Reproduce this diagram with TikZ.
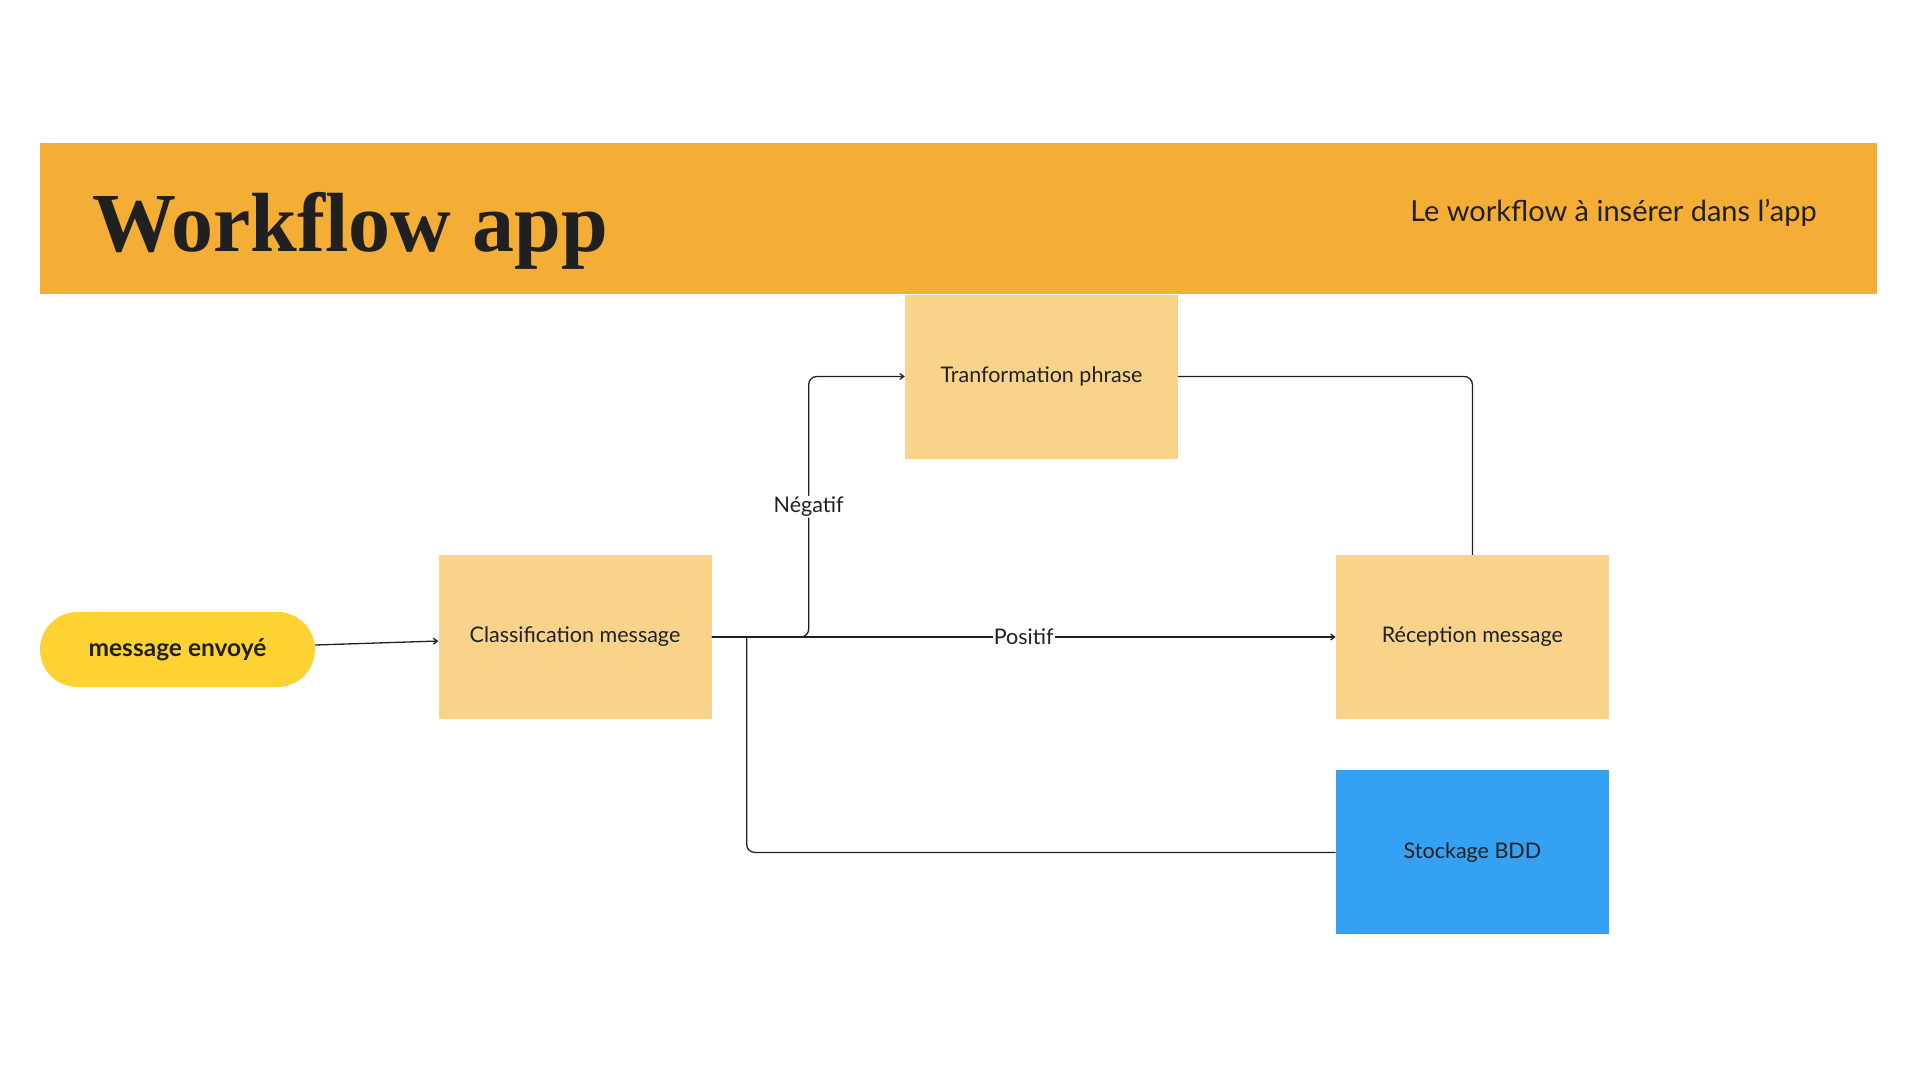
\documentclass[tikz,border=0pt]{standalone}
\usepackage{fontspec}
\setmainfont{Lato}
\newfontfamily\titrefont{Liberation Serif}
\usetikzlibrary{arrows.meta, positioning}

\definecolor{bandeau}{HTML}{F4AD35}
\definecolor{etapefond}{HTML}{F9D38A}
\definecolor{departfond}{HTML}{FFD233}
\definecolor{stockfond}{HTML}{35A1F4}
\definecolor{encre}{HTML}{202020}

\begin{document}
\begin{tikzpicture}[
        x=1pt, y=-1pt,
        font=\fontsize{21.5}{25}\selectfont, text=encre,
        % Define styles for the different blocks
        banner/.style={rectangle, fill=bandeau, minimum width=1837pt, minimum height=151pt, inner sep=0pt},
        etape/.style={rectangle, fill=etapefond, minimum width=273pt, minimum height=164pt, inner sep=0pt},
        depart/.style={rectangle, rounded corners=37.5pt, fill=departfond, minimum width=275pt, minimum height=75pt, inner sep=0pt, font=\fontsize{24.5}{28}\selectfont\bfseries},
        stock/.style={etape, fill=stockfond},
        etiquette/.style={fill=white, inner sep=1pt},
        line/.style={draw, -{Straight Barb[length=4pt, width=6pt]}, line width=1.3pt, color=encre},
        lien/.style={draw, line width=1.3pt, color=encre}
    ]
    \useasboundingbox (0,0) rectangle (1920,1080);

    % --- Header ---
    \node [banner] (bandeau) at (958.5,218.5) {};
    \node [anchor=base west, inner sep=0pt, font=\titrefont\fontsize{84}{90}\selectfont\bfseries] (titre) at (92,251) {Workflow app};
    \node [anchor=east, inner sep=0pt, font=\fontsize{29}{33}\selectfont] (soustitre) at (1817,213) {Le workflow à insérer dans l’app};

    % --- Nodes ---
    \node [depart] (envoi) at (177.5,649.5) {message envoyé};
    \node [etape] (classif) at (575,637) {Classification message};
    \node [etape] (tranfo) at (1041.5,376.5) {Tranformation phrase};
    \node [etape, right=624pt of classif] (reception) {Réception message};
    \node [stock, below=51pt of reception] (stockage) {Stockage BDD};

    % --- Edges (Arrows) ---
    \path [line] ([yshift=4.5pt]envoi.east) -- ([yshift=-4pt]classif.west);

    % Negative branch goes up to the transformation
    \path [line, rounded corners=8pt] (classif.east) -- ++(97,0)
        |- node[pos=0.25, etiquette] {Négatif} (tranfo.west);

    % Positive branch goes straight to reception
    \path [line] (classif.east) -- node[etiquette] {Positif} (reception.west);

    \path [lien, rounded corners=8pt] (tranfo.east) -| (reception.north);

    % Storage joins the classification output
    \path [lien, rounded corners=8pt] (stockage.west) -| ([xshift=35pt]classif.east);

\end{tikzpicture}
\end{document}
